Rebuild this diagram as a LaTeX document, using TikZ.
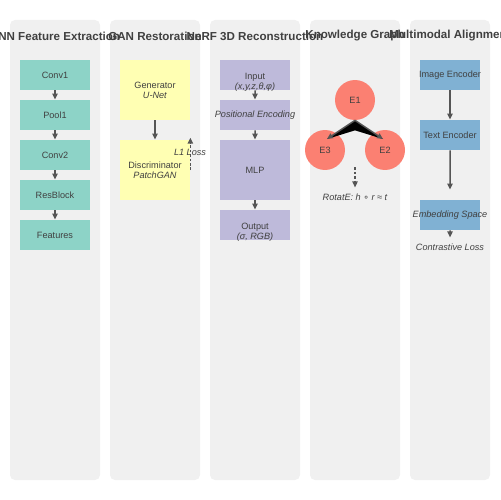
\documentclass[tikz,border=0pt]{standalone}
\usepackage{fontspec}
\setmainfont{Liberation Sans}
\newfontfamily\symfont{DejaVu Sans}
\usetikzlibrary{arrows.meta,calc}

\definecolor{panelgray}{HTML}{F0F0F0}
\definecolor{textgray}{HTML}{404040}
\definecolor{arrowgray}{HTML}{555555}
\definecolor{cnnteal}{HTML}{8DD3C7}
\definecolor{ganyellow}{HTML}{FFFFB3}
\definecolor{nerfpurple}{HTML}{BEBADA}
\definecolor{kgred}{HTML}{FB8072}
\definecolor{mmblue}{HTML}{80B1D3}

\begin{document}
\begin{tikzpicture}[x=0.02cm, y=-0.02cm,
        panel/.style={fill=panelgray, rounded corners=0.1cm},
        title/.style={font=\bfseries\fontsize{6.6}{7}\selectfont, text=textgray},
        block/.style={rectangle, minimum width=1.4cm, minimum height=0.6cm, inner xsep=-0.5cm, inner ysep=0pt, align=center, font=\fontsize{5.2}{5.8}\selectfont, text=textgray},
        cnn/.style={block, fill=cnnteal},
        gan/.style={block, fill=ganyellow, minimum height=1.2cm},
        nerf/.style={block, fill=nerfpurple},
        mm/.style={block, fill=mmblue, minimum width=1.2cm},
        entity/.style={circle, fill=kgred, minimum size=0.8cm, inner sep=0pt, font=\fontsize{5.2}{6}\selectfont, text=textgray},
        arrow/.style={-{Triangle[length=3.4pt,width=3pt]}, line width=0.85pt, draw=arrowgray},
        dasharrow/.style={arrow, dash pattern=on 1.5pt off 1pt},
        label/.style={font=\itshape\fontsize{5.2}{5.8}\selectfont, text=textgray, align=center}
    ]
        \useasboundingbox (0,0) rectangle (500,500);

        % Background panels
        \foreach \px/\pw in {10/90, 110/90, 210/90, 310/90, 410/80}
            \fill[panel] (\px,20) rectangle ++(\pw,460);

        % Panel titles
        \node[title] (tcnn) at (55,36) {CNN Feature Extraction};
        \node[title] (tgan) at (155,36) {GAN Restoration};
        \node[title] (tnerf) at (255,36) {NeRF 3D Reconstruction};
        \node[title] (tkg) at (355,36) {Knowledge Graph};
        \node[title] (tmm) at (450,36) {Multimodal Alignment};

        % CNN feature extraction
        \node[cnn] (conv1) at (55,75) {Conv1};
        \node[cnn] (pool1) at (55,115) {Pool1};
        \node[cnn] (conv2) at (55,155) {Conv2};
        \node[cnn] (resblock) at (55,195) {ResBlock};
        \node[cnn] (features) at (55,235) {Features};
        \foreach \a/\b in {conv1/pool1, pool1/conv2, conv2/resblock, resblock/features}
            \draw[arrow] (\a) -- (\b);

        % GAN restoration
        \node[gan] (gen) at (155,90) {Generator\\\textit{U-Net}};
        \node[gan] (disc) at (155,170) {Discriminator\\\textit{PatchGAN}};
        \draw[arrow] (gen) -- (disc);
        \coordinate (lossend) at ($(disc.north east)+(0,-2)$);
        \draw[dasharrow] (disc.east) -- (lossend);
        \node[label] (loss) at (190,152) {L1 Loss};

        % NeRF 3D reconstruction
        \node[nerf] (input) at (255,75) {};
        \node[label, font=\fontsize{5.2}{5.8}\selectfont] (inputtext) at (255,82) {Input\\\textit{(x,y,z,θ,φ)}};
        \node[nerf] (posenc) at (255,115) {\textit{Positional Encoding}};
        \node[nerf, minimum height=1.2cm] (mlp) at (255,170) {MLP};
        \node[nerf] (output) at (255,225) {};
        \node[label, font=\fontsize{5.2}{5.8}\selectfont] (outputtext) at (255,232) {Output\\\textit{(σ, RGB)}};
        \draw[arrow] (input) -- (posenc);
        \draw[arrow] (posenc) -- (mlp);
        \draw[arrow] (mlp) -- (output);

        % Knowledge graph
        \node[entity] (e1) at (355,100) {E1};
        \node[entity] (e3) at (325,150) {E3};
        \node[entity] (e2) at (385,150) {E2};
        \coordinate (tip3) at ($(e3)+(2,-11)$);
        \coordinate (tip2) at ($(e2)+(-2,-11)$);
        \fill[black] (e1.south) -- (tip3) -- ($(e1.south)+(0,10)$) -- cycle;
        \fill[black] (e1.south) -- (tip2) -- ($(e1.south)+(0,10)$) -- cycle;
        \draw[arrow] (e1.south) -- (tip3);
        \draw[arrow] (e1.south) -- (tip2);
        \node[label] (rotate) at (355,197) {RotatE: h {\upshape\symfont∘} r ≈ t};
        \draw[dasharrow] ($(rotate.north)+(0,-20)$) -- (rotate.north);

        % Multimodal alignment
        \node[mm] (imgenc) at (450,75) {Image Encoder};
        \node[mm] (txtenc) at (450,135) {Text Encoder};
        \node[mm] (embed) at (450,215) {\textit{Embedding Space}};
        \node[label] (contrast) at (450,247) {Contrastive Loss};
        \draw[arrow] (imgenc) -- (txtenc);
        \draw[arrow, shorten >=10*0.02cm] (txtenc) -- (embed);
        \draw[arrow] (embed) -- (contrast);

    \end{tikzpicture}
\end{document}
